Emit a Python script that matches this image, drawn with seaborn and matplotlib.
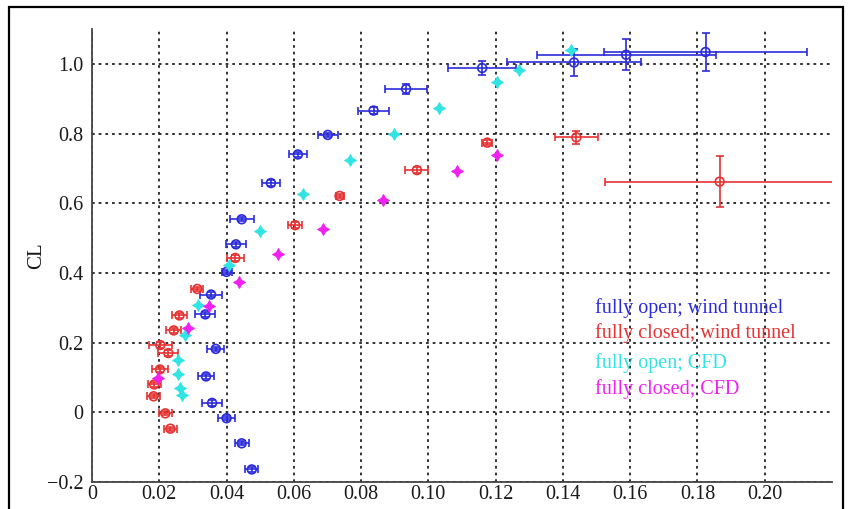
import numpy as np
import pandas as pd
import matplotlib
matplotlib.use("Agg")
import matplotlib.pyplot as plt
from matplotlib.patches import Rectangle
import seaborn as sns

# Fully open flap, wind tunnel (CD, CL with uncertainties)
open_wt_cd = [0.0475, 0.0445, 0.0400, 0.0357, 0.0339, 0.0368, 0.0337, 0.0354, 0.0400, 0.0428,
              0.0445, 0.0532, 0.0612, 0.0701, 0.0837, 0.0934, 0.1160, 0.1433, 0.1588, 0.1824]
open_wt_cl = [-0.164, -0.089, -0.017, 0.027, 0.103, 0.182, 0.281, 0.338, 0.403, 0.482,
              0.554, 0.658, 0.740, 0.796, 0.866, 0.928, 0.988, 1.004, 1.026, 1.034]
open_wt_cd_err = [0.0019, 0.0021, 0.0025, 0.0030, 0.0025, 0.0025, 0.0030, 0.0033, 0.0015, 0.0031,
                  0.0036, 0.0026, 0.0027, 0.0030, 0.0046, 0.0062, 0.0101, 0.0200, 0.0266, 0.0301]
open_wt_cl_err = [0.006, 0.006, 0.006, 0.008, 0.008, 0.006, 0.008, 0.008, 0.006, 0.008,
                  0.006, 0.008, 0.008, 0.006, 0.009, 0.014, 0.019, 0.040, 0.045, 0.055]

# Fully closed flap, wind tunnel
closed_wt_cd = [0.0233, 0.0218, 0.0183, 0.0185, 0.0202, 0.0227, 0.0203, 0.0243, 0.0260, 0.0313,
                0.0426, 0.0604, 0.0736, 0.0966, 0.1175, 0.1440, 0.1866]
closed_wt_cl = [-0.047, -0.003, 0.046, 0.080, 0.123, 0.170, 0.193, 0.235, 0.278, 0.354,
                0.443, 0.537, 0.621, 0.695, 0.774, 0.789, 0.662]
closed_wt_cd_err = [0.0020, 0.0020, 0.0020, 0.0020, 0.0025, 0.0030, 0.0035, 0.0022, 0.0022, 0.0018,
                    0.0026, 0.0020, 0.0012, 0.0034, 0.0015, 0.0063, 0.0341]
closed_wt_cl_err = [0.006, 0.006, 0.006, 0.006, 0.006, 0.008, 0.008, 0.006, 0.006, 0.006,
                    0.008, 0.008, 0.006, 0.008, 0.008, 0.018, 0.073]

# CFD predictions
open_cfd_cd = [0.0267, 0.0262, 0.0257, 0.0257, 0.0275, 0.0316, 0.0406, 0.0500, 0.0627, 0.0766,
               0.0899, 0.1033, 0.1204, 0.1270, 0.1425]
open_cfd_cl = [0.049, 0.071, 0.111, 0.151, 0.223, 0.307, 0.422, 0.520, 0.626, 0.724,
               0.799, 0.874, 0.949, 0.981, 1.040]
closed_cfd_cd = [0.0197, 0.0284, 0.0348, 0.0437, 0.0553, 0.0687, 0.0864, 0.1085, 0.1204]
closed_cfd_cl = [0.099, 0.242, 0.305, 0.375, 0.453, 0.526, 0.609, 0.693, 0.737]

x_ticks = [0, 0.02, 0.04, 0.06, 0.08, 0.10, 0.12, 0.14, 0.16, 0.18, 0.20]
x_tick_labels = ["0", "0.02", "0.04", "0.06", "0.08", "0.10", "0.12", "0.14", "0.16", "0.18", "0.20"]
y_ticks = [-0.2, 0, 0.2, 0.4, 0.6, 0.8, 1.0]
y_tick_labels = ["\u22120.2", "0", "0.2", "0.4", "0.6", "0.8", "1.0"]

legend_labels = ["fully open; wind tunnel", "fully closed; wind tunnel",
                 "fully open; CFD", "fully closed; CFD"]

BLUE = "#2b2bdc"
RED = "#e63232"
CYAN = "#30e4e4"
MAGENTA = "#f020f0"

sns.set_style("white")
plt.rcParams["font.family"] = ["Liberation Serif", "DejaVu Serif"]

fig = plt.figure(figsize=(8.49, 5.09), dpi=100)
W, H = 849, 509
ax = fig.add_axes([92 / W, (H - 482) / H, (832 - 92) / W, (482 - 29) / H])

# Outer frame of the figure
fig.patches.append(Rectangle((9 / W, -0.05), (843 - 9) / W, (H - 7) / H + 0.05,
                             transform=fig.transFigure, fill=False,
                             edgecolor="black", linewidth=1.6, zorder=0))

open_wt = pd.DataFrame({"CD": open_wt_cd, "CL": open_wt_cl})
closed_wt = pd.DataFrame({"CD": closed_wt_cd, "CL": closed_wt_cl})
open_cfd = pd.DataFrame({"CD": open_cfd_cd, "CL": open_cfd_cl})
closed_cfd = pd.DataFrame({"CD": closed_cfd_cd, "CL": closed_cfd_cl})

# Wind tunnel error bars
ax.errorbar(open_wt_cd, open_wt_cl, xerr=open_wt_cd_err, yerr=open_wt_cl_err,
            fmt="none", ecolor=BLUE, elinewidth=1.2, capsize=3.2, capthick=1.2, zorder=3)
ax.errorbar(closed_wt_cd, closed_wt_cl, xerr=closed_wt_cd_err, yerr=closed_wt_cl_err,
            fmt="none", ecolor=RED, elinewidth=1.2, capsize=3.2, capthick=1.2, zorder=3)

sns.scatterplot(data=open_wt, x="CD", y="CL", ax=ax, marker="o", s=40,
                facecolor="none", edgecolor=BLUE, linewidth=1.2, zorder=4)
sns.scatterplot(data=closed_wt, x="CD", y="CL", ax=ax, marker="o", s=40,
                facecolor="none", edgecolor=RED, linewidth=1.2, zorder=4)
sns.scatterplot(data=open_cfd, x="CD", y="CL", ax=ax, marker=(4, 1, 0), s=70,
                color=CYAN, edgecolor=CYAN, linewidth=0.8, zorder=4)
sns.scatterplot(data=closed_cfd, x="CD", y="CL", ax=ax, marker=(4, 1, 0), s=70,
                color=MAGENTA, edgecolor=MAGENTA, linewidth=0.8, zorder=4)

ax.set_xlim(0, 0.22)
ax.set_ylim(-0.2, 1.1)
ax.set_xticks(x_ticks)
ax.set_xticklabels(x_tick_labels)
ax.set_yticks(y_ticks)
ax.set_yticklabels(y_tick_labels)

ax.grid(True, color="#222222", linestyle=(0, (1.5, 2.2)), linewidth=1.3)
ax.set_axisbelow(True)

for side in ("top", "right"):
    ax.spines[side].set_visible(False)
for side in ("left", "bottom"):
    ax.spines[side].set_color("#444444")
    ax.spines[side].set_linewidth(1.3)

ax.tick_params(axis="both", direction="in", length=5, width=1.0, color="#444444",
               labelsize=14.5, labelcolor="#1a1a1a")
ax.tick_params(axis="y", pad=6)
ax.tick_params(axis="x", pad=2.5)

ax.set_xlabel("")
ax.set_ylabel("CL", fontsize=15, color="#1a1a1a", labelpad=1)

# Colored text key
key_colors = [BLUE, RED, CYAN, MAGENTA]
key_y = [0.384, 0.329, 0.263, 0.205]
for label, color, yy in zip(legend_labels, key_colors, key_y):
    ax.text(0.68, yy, label, transform=ax.transAxes, color=color,
            fontsize=14.5, va="center", ha="left")

fig.savefig("out.png", dpi=100)
